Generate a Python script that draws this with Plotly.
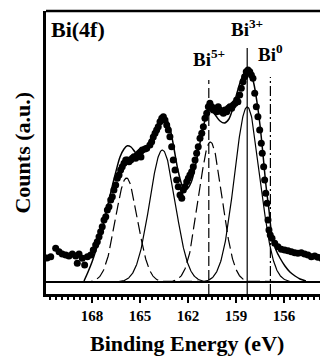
import numpy as np
import plotly.graph_objects as go

# ---- measured data points (binding energy in eV, counts a.u.) ----
be_data = [170.81,170.58,170.27,170.06,169.86,169.64,169.44,169.23,169.02,168.92,168.81,168.61,168.46,168.29,168.08,
           167.92,167.77,167.67,167.56,167.46,167.36,167.25,167.14,167.04,166.94,166.83,166.73,166.63,166.52,166.42,
           166.31,166.21,166.11,166.0,165.89,165.79,165.69,165.58,165.48,165.38,165.27,165.17,165.06,164.96,164.86,
           164.94,164.69,164.58,164.38,164.27,164.17,164.06,163.96,163.86,163.75,163.64,163.54,163.44,163.33,163.23,
           163.13,163.02,162.92,162.81,162.71,162.61,162.5,162.39,162.29,162.19,162.08,161.98,161.88,161.77,161.67,
           161.56,161.46,161.36,161.25,161.14,161.04,160.94,160.83,160.73,160.63,160.52,160.42,160.31,160.21,160.11,
           160.0,159.89,159.79,159.69,159.58,159.48,159.38,159.27,159.17,159.06,158.96,158.88,158.77,158.67,158.56,
           158.46,158.36,158.25,158.14,158.04,157.94,157.83,157.73,157.63,157.52,157.42,157.36,157.27,157.21,157.14,
           157.06,157.0,156.94,156.86,156.75,156.58,156.38,156.17,155.96,155.75,155.54,155.33,155.13,154.92,154.71,
           154.5,154.29,154.08,153.88,153.67,153.46,153.29]
counts_data = [24,25.3,33.7,30.3,28,27,26,28,26,18.7,28,23.7,17,25.3,27,
               32,37,40.3,45.3,50.3,55.3,62,65.3,72,75.3,82,85.3,92,97,103.7,
               107,112,115.3,118.7,122,122,120.3,122,123.7,125.3,123.7,127,128.7,130.3,132,
               125,133,133.7,137,140.3,145,148.7,152,155.3,160.3,163.7,165.3,162,157,152,
               145.3,135.3,122,112,102,95.3,87,83.7,92,95.3,100.3,103.7,107,110.3,115.3,
               122,128.7,135.3,143.7,148.7,155.3,163.7,168.7,175.3,178.7,175.3,172,173.7,170.3,175.3,
               172,170.3,168.7,172,170.3,173.7,175.3,173.7,177,178.7,182,180.3,187,193.7,200.3,
               205.3,210.3,212,210.3,207,203.7,188.7,175.3,165.3,152,138.7,128.7,115.3,102,88.7,
               78.7,62,52,47,43.7,38.7,35.3,32.7,32,31.3,30.3,29.3,28.7,29.3,28,
               27,25.3,26,24.7,23.7,22.7,22]

# ---- overall fit envelope ----
be_env = [168.5,168.25,168.0,167.75,167.5,167.19,166.88,166.56,166.25,166.0,165.79,165.56,165.31,165.13,164.88,
          164.56,164.25,163.94,163.69,163.53,163.38,163.13,162.88,162.63,162.38,162.19,162.0,161.75,161.5,161.25,
          161.0,160.81,160.66,160.5,160.25,160.0,159.72,159.44,159.19,158.94,158.69,158.47,158.28,158.09,157.88,
          157.69,157.5,157.31,157.13,156.94,156.75,156.5,156.25,155.94,155.63,155.31,155.0,154.63]
counts_env = [1,10,20,32,45,64,86,107,125,133,136.3,135,130,127,129,
              136,146,157,164,166,164,154,134,112,97,92,94,102,119,139,
              158,168,172,171,166,161,159,163,174,189,202,209,211,209,198,
              180,157,127,97,72,46,32,24,16,10,6,3,1]

# ---- fitted components: centre (eV), height, sigma (eV), dash ----
comp_center = [165.84, 163.6, 160.6, 158.3]
comp_height = [104, 132, 140, 175]
comp_sigma = [0.69, 0.80, 0.73, 0.80]
comp_dash = ["12px,5px", "solid", "12px,5px", "solid"]

# ---- reference lines for oxidation states ----
state_labels = ["Bi<sup>5+</sup>", "Bi<sup>3+</sup>", "Bi<sup>0</sup>"]
state_be = [160.7, 158.3, 156.85]
state_top = [202, 234, 205]
state_label_y = [210, 240, 215]
state_dash = ["10px,4px", "solid", "10px,3px,2px,3px"]

xticks = [168, 165, 162, 159, 156]

FONT = "Liberation Serif, Times New Roman, serif"

fig = go.Figure()

grid = np.linspace(153.25, 170.875, 800)
for c, h, s, d in zip(comp_center, comp_height, comp_sigma, comp_dash):
    y = h * np.exp(-((grid - c) ** 2) / (2 * s * s))
    fig.add_trace(go.Scatter(x=grid, y=y, mode="lines",
                             line=dict(color="black", width=1.2, dash=d),
                             showlegend=False, hoverinfo="skip"))

fig.add_trace(go.Scatter(x=be_env, y=counts_env, mode="lines",
                         line=dict(color="black", width=1.5, shape="spline", smoothing=0.8),
                         showlegend=False, hoverinfo="skip"))

fig.add_trace(go.Scatter(x=be_data, y=counts_data, mode="markers",
                         marker=dict(color="black", size=7, symbol="circle"),
                         showlegend=False))

shapes = []
# baseline
shapes.append(dict(type="line", xref="paper", yref="y", x0=0, x1=1, y0=0, y1=0,
                   line=dict(color="black", width=2)))
# top frame
shapes.append(dict(type="line", xref="paper", yref="paper", x0=0, x1=1, y0=1, y1=1,
                   line=dict(color="black", width=2.5)))
for xb, yt, d in zip(state_be, state_top, state_dash):
    shapes.append(dict(type="line", xref="x", yref="y", x0=xb, x1=xb, y0=-12, y1=yt,
                       line=dict(color="black", width=1.2, dash=d)))

annotations = []
for lab, xb, ly in zip(state_labels, state_be, state_label_y):
    annotations.append(dict(x=xb, y=ly, xref="x", yref="y", text=lab,
                            showarrow=False, yanchor="bottom", xanchor="center",
                            font=dict(family=FONT, size=19, color="black", weight="bold")))
annotations.append(dict(x=0.012, y=0.985, xref="paper", yref="paper", text="Bi(4f)",
                        showarrow=False, xanchor="left", yanchor="top",
                        font=dict(family=FONT, size=22, color="black", weight="bold")))
annotations.append(dict(x=0.5, y=-0.122, xref="paper", yref="paper",
                        text="Binding Energy (eV)", showarrow=False,
                        xanchor="center", yanchor="top",
                        font=dict(family=FONT, size=22, color="black", weight="bold")))
annotations.append(dict(x=-0.085, y=0.5, xref="paper", yref="paper",
                        text="Counts (a.u.)", showarrow=False, textangle=-90,
                        xanchor="center", yanchor="middle",
                        font=dict(family=FONT, size=22, color="black", weight="bold")))

# The page body adds an 8px margin, so the figure is 8px smaller on each axis.
fig.update_layout(
    width=320, height=349,
    margin=dict(l=38, r=0, t=3, b=63),
    paper_bgcolor="white", plot_bgcolor="white",
    shapes=shapes, annotations=annotations,
    xaxis=dict(range=[170.875, 153.25], showgrid=False, zeroline=False,
               showline=True, linecolor="black", linewidth=2.5,
               tickmode="array", tickvals=xticks,
               ticks="outside", ticklen=6, tickwidth=1.5, tickcolor="black",
               ticklabelstandoff=0,
               tickfont=dict(family=FONT, size=15, color="black", weight="bold"),
               minor=dict(dtick=0.375, tick0=168, ticks="outside", ticklen=3,
                          tickwidth=1.5, tickcolor="black", showgrid=False)),
    yaxis=dict(range=[-12, 271], showgrid=False, zeroline=False,
               showline=True, linecolor="black", linewidth=2.5,
               showticklabels=False, ticks=""),
)

fig.write_html("out.html")
